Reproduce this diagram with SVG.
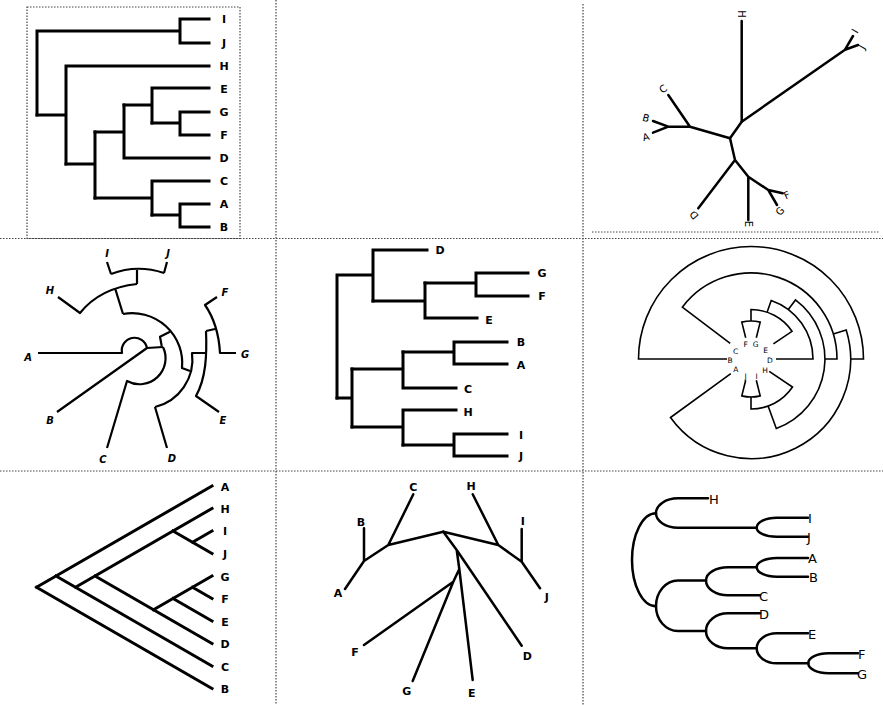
<svg xmlns="http://www.w3.org/2000/svg" width="883" height="705" viewBox="0 0 883 705">
<style>
.grid{fill:none;stroke:#444;stroke-width:1.2;stroke-dasharray:1.5 1.5}
.w3{fill:none;stroke:#000;stroke-width:3;stroke-linecap:square;stroke-linejoin:miter}
.w25{fill:none;stroke:#000;stroke-width:2.5;stroke-linecap:round;stroke-linejoin:round}
.w2{fill:none;stroke:#000;stroke-width:2.2;stroke-linecap:butt;stroke-linejoin:round}
.w15{fill:none;stroke:#000;stroke-width:1.6;stroke-linecap:butt;stroke-linejoin:miter}
.lb{font-family:"DejaVu Sans",sans-serif;font-weight:bold;font-size:11px;text-anchor:middle;dominant-baseline:central;fill:#000}
.li{font-family:"DejaVu Sans",sans-serif;font-weight:bold;font-style:italic;font-size:10px;text-anchor:middle;dominant-baseline:central;fill:#000}
.lt{font-family:"DejaVu Sans",sans-serif;font-size:10px;text-anchor:middle;dominant-baseline:central;fill:#000}
.lf{font-family:"DejaVu Sans",sans-serif;font-size:7.5px;text-anchor:middle;dominant-baseline:central;fill:#000}
.lr{font-family:"DejaVu Sans",sans-serif;font-size:13px;dominant-baseline:central;fill:#000}
</style>

<g id="grid">
<line class="grid" x1="276" y1="0" x2="276" y2="705"/>
<line class="grid" x1="583" y1="4" x2="583" y2="705"/>
<line class="grid" x1="0" y1="238.5" x2="883" y2="238.5"/>
<line class="grid" x1="0" y1="471" x2="883" y2="471"/>
<line class="grid" x1="592" y1="232" x2="880" y2="232"/>
<rect class="grid" x="27" y="7" width="213" height="231.5"/>
</g>

<!-- Panel 1: rectangular tree -->
<g id="p1-connectors">
<path class="w3" d="M37,31 V115 M37,31 H180 M180,19 V43 M180,19 H209 M180,43 H209"/>
<path class="w3" d="M37,115 H66 M66,66 V164 M66,66 H209"/>
<path class="w3" d="M66,164 H95 M95,132 V198"/>
<path class="w3" d="M95,132 H124 M124,105 V158 M124,158 H209"/>
<path class="w3" d="M124,105 H152 M152,88 V123 M152,88 H209"/>
<path class="w3" d="M152,123 H180 M180,112 V135 M180,112 H209 M180,135 H209"/>
<path class="w3" d="M95,198 H152 M152,181 V215 M152,181 H209"/>
<path class="w3" d="M152,215 H180 M180,204 V227 M180,204 H209 M180,227 H209"/>
</g>
<g id="p1-I"><text class="lb" x="224" y="19">I</text></g>
<g id="p1-J"><text class="lb" x="224" y="43">J</text></g>
<g id="p1-H"><text class="lb" x="224" y="66">H</text></g>
<g id="p1-E"><text class="lb" x="224" y="89">E</text></g>
<g id="p1-G"><text class="lb" x="224" y="112">G</text></g>
<g id="p1-F"><text class="lb" x="224" y="135">F</text></g>
<g id="p1-D"><text class="lb" x="224" y="158">D</text></g>
<g id="p1-C"><text class="lb" x="224" y="181">C</text></g>
<g id="p1-A"><text class="lb" x="224" y="204">A</text></g>
<g id="p1-B"><text class="lb" x="224" y="227">B</text></g>

<!-- Panel 3: unrooted tree -->
<g id="p3-connectors">
<path class="w25" d="M741.7,21 V121.7 M741.7,121.7 L845,49.7 M845,49.7 L853,36 M845,49.7 L858,45"/>
<path class="w25" d="M741.7,121.7 L730,138.3 L690,126.7 M690,126.7 L668.3,95 M690,126.7 L668.3,126.7 M668.3,126.7 L653,121 M668.3,126.7 L653,132.7"/>
<path class="w25" d="M730,138.3 L735,160 M735,160 L698.3,208.3 M735,160 L748.3,176.7 M748.3,176.7 V220 M748.3,176.7 L768.3,190 M768.3,190 L782.7,193.3 M768.3,190 L777,205"/>
</g>
<g id="p3-H"><text class="lt" x="741.7" y="14" transform="rotate(90 741.7 14)">H</text></g>
<g id="p3-I"><text class="lt" x="855" y="31" transform="rotate(-60 855 31)">I</text></g>
<g id="p3-J"><text class="lt" x="862" y="47" transform="rotate(-60 862 47)">J</text></g>
<g id="p3-C"><text class="lt" x="663" y="89" transform="rotate(-35 663 89)">C</text></g>
<g id="p3-B"><text class="lt" x="646" y="118" transform="rotate(15 646 118)">B</text></g>
<g id="p3-A"><text class="lt" x="646" y="137" transform="rotate(-15 646 137)">A</text></g>
<g id="p3-D"><text class="lt" x="694" y="215" transform="rotate(-130 694 215)">D</text></g>
<g id="p3-E"><text class="lt" x="748.3" y="224" transform="rotate(90 748.3 224)">E</text></g>
<g id="p3-F"><text class="lt" x="787" y="195" transform="rotate(-25 787 195)">F</text></g>
<g id="p3-G"><text class="lt" x="780" y="211" transform="rotate(-45 780 211)">G</text></g>

<!-- Panel 4: circular tree -->
<g id="p4-connectors">
<path class="w2" d="M107,262 L111,274 M111,274 Q137,264 164,273 M164,273 L167,262 M137,269 V284"/>
<path class="w2" d="M58,297 L80,313 Q100,288 137,284 M115,288 L123,314"/>
<path class="w2" d="M123,314 A50,50 0 0 1 182,368 L190,371"/>
<path class="w2" d="M38,353 H122 A12.5,12.5 0 0 1 147,348 L163,347 M57,412 L147,348"/>
<path class="w2" d="M163,347 A26,26 0 0 1 127,381 L107,448 M161.7,346 L160,336.7 L170,331.7"/>
<path class="w2" d="M155,407 L167,448 M155,407 A49,49 0 0 0 192,353 H206"/>
<path class="w2" d="M206,331 C207,355 206,378 196,396 L219,412 M206,331 L215,329"/>
<path class="w2" d="M217,297 L205,305 C214,318 219,335 220,353 H236"/>
</g>
<g id="p4-A"><text class="li" x="28" y="357">A</text></g>
<g id="p4-B"><text class="li" x="50" y="420">B</text></g>
<g id="p4-C"><text class="li" x="103" y="459">C</text></g>
<g id="p4-D"><text class="li" x="172" y="458">D</text></g>
<g id="p4-E"><text class="li" x="223" y="420">E</text></g>
<g id="p4-G"><text class="li" x="245" y="354">G</text></g>
<g id="p4-F"><text class="li" x="225" y="292">F</text></g>
<g id="p4-H"><text class="li" x="50" y="290">H</text></g>
<g id="p4-I"><text class="li" x="107" y="253">I</text></g>
<g id="p4-J"><text class="li" x="168" y="253">J</text></g>

<!-- Panel 5: rectangular tree -->
<g id="p5-connectors">
<path class="w3" d="M337,275 V398 M337,275 H373 M373,250 V301 M373,250 H427"/>
<path class="w3" d="M373,301 H425 M425,283 V318 M425,318 H477"/>
<path class="w3" d="M425,283 H476 M476,273 V296 M476,273 H528 M476,296 H528"/>
<path class="w3" d="M337,398 H352 M352,369 V427"/>
<path class="w3" d="M352,369 H403 M403,352 V388 M403,388 H456"/>
<path class="w3" d="M403,352 H454 M454,342 V364 M454,342 H507 M454,364 H507"/>
<path class="w3" d="M352,427 H403 M403,410 V445 M403,410 H456"/>
<path class="w3" d="M403,445 H454 M454,434 V456 M454,434 H507 M454,456 H507"/>
</g>
<g id="p5-D"><text class="lb" x="440" y="250">D</text></g>
<g id="p5-G"><text class="lb" x="542" y="273">G</text></g>
<g id="p5-F"><text class="lb" x="542" y="296">F</text></g>
<g id="p5-E"><text class="lb" x="489" y="320">E</text></g>
<g id="p5-B"><text class="lb" x="521" y="342">B</text></g>
<g id="p5-A"><text class="lb" x="521" y="365">A</text></g>
<g id="p5-C"><text class="lb" x="468" y="389">C</text></g>
<g id="p5-H"><text class="lb" x="468" y="412">H</text></g>
<g id="p5-I"><text class="lb" x="521" y="435">I</text></g>
<g id="p5-J"><text class="lb" x="521" y="456">J</text></g>

<!-- Panel 6: fan tree -->
<g id="p6-connectors">
<path class="w15" d="M727,359 H638.5 A112.5,112.5 0 0 1 863.5,359 H850.5"/>
<path class="w15" d="M730.8,373.7 L670.5,417.5 A99.5,99.5 0 0 0 846.2,329.9 L833.2,333.9"/>
<path class="w15" d="M730.2,343.4 L682.3,307.2 A86,86 0 0 1 837,359 H825"/>
<path class="w15" d="M788.3,309.5 L795.5,299.9 A74,74 0 0 1 776.3,428.5 L768.1,406"/>
<path class="w15" d="M767.1,312.2 L771.2,300.4 A62,62 0 0 1 813,359 H776"/>
<path class="w15" d="M751,321 V309.5 A49.5,49.5 0 0 1 792,331.3 L773.4,343.9"/>
<path class="w15" d="M745.7,337.7 L741.8,322.1 A38,38 0 0 1 760.2,322.1 L756.3,337.7"/>
<path class="w15" d="M751,397 V409 A50,50 0 0 0 792.5,387 L769.2,371.3"/>
<path class="w15" d="M745.7,380.3 L741.8,395.9 A38,38 0 0 0 760.2,395.9 L756.3,380.3"/>
</g>
<g id="p6-C"><text class="lf" x="735.7" y="351.5">C</text></g>
<g id="p6-F"><text class="lf" x="745.7" y="344">F</text></g>
<g id="p6-G"><text class="lf" x="755.7" y="344">G</text></g>
<g id="p6-E"><text class="lf" x="765.7" y="350">E</text></g>
<g id="p6-B"><text class="lf" x="730" y="360.5">B</text></g>
<g id="p6-D"><text class="lf" x="770" y="360.5">D</text></g>
<g id="p6-A"><text class="lf" x="735.7" y="369.3">A</text></g>
<g id="p6-J"><text class="lf" x="745.7" y="376.7">J</text></g>
<g id="p6-I"><text class="lf" x="756.7" y="376.7">I</text></g>
<g id="p6-H"><text class="lf" x="765" y="370.7">H</text></g>

<!-- Panel 7: slanted cladogram -->
<g id="p7-connectors">
<path class="w3" d="M36.5,587.25 L212,486 M36.5,587.25 L212,688.5"/>
<path class="w3" d="M56,576 L212,666 M75.5,587.25 L212,508.5 M95,576 L212,643.5"/>
<path class="w3" d="M173,531 L212,553.5 M192.5,542.25 L212,531"/>
<path class="w3" d="M153.5,609.75 L212,576 M173,598.5 L212,621 M192.5,587.25 L212,598.5"/>
</g>
<g id="p7-A"><text class="lb" x="225" y="487">A</text></g>
<g id="p7-H"><text class="lb" x="225" y="509">H</text></g>
<g id="p7-I"><text class="lb" x="225" y="531.5">I</text></g>
<g id="p7-J"><text class="lb" x="225" y="554">J</text></g>
<g id="p7-G"><text class="lb" x="225" y="577">G</text></g>
<g id="p7-F"><text class="lb" x="225" y="599.5">F</text></g>
<g id="p7-E"><text class="lb" x="225" y="622">E</text></g>
<g id="p7-D"><text class="lb" x="225" y="644.5">D</text></g>
<g id="p7-C"><text class="lb" x="225" y="667">C</text></g>
<g id="p7-B"><text class="lb" x="225" y="689.5">B</text></g>

<!-- Panel 8: unrooted tree 2 -->
<g id="p8-connectors">
<path class="w25" d="M443.3,531.7 L388.3,545 L413.3,494.3 M388.3,545 L364,561 V528.3 M364,561 L345,589"/>
<path class="w25" d="M443.3,531.7 L498.3,545 L472.7,494.3 M498.3,545 L521.7,561.7 V529 M521.7,561.7 L540,588.3"/>
<path class="w25" d="M443.3,531.7 L456.7,550 L521.7,645.7 M456.7,550 L459.3,569 L472.7,680 M459.3,569 L453.3,581.7 L364,645 M453.3,581.7 L412.7,681"/>
</g>
<g id="p8-C"><text class="lb" x="413.3" y="487">C</text></g>
<g id="p8-B"><text class="lb" x="361" y="522">B</text></g>
<g id="p8-A"><text class="lb" x="338" y="593">A</text></g>
<g id="p8-H"><text class="lb" x="471" y="486">H</text></g>
<g id="p8-I"><text class="lb" x="522.7" y="521">I</text></g>
<g id="p8-J"><text class="lb" x="546.7" y="597.7">J</text></g>
<g id="p8-D"><text class="lb" x="527.3" y="656.7">D</text></g>
<g id="p8-E"><text class="lb" x="471.7" y="693.3">E</text></g>
<g id="p8-F"><text class="lb" x="355" y="652.7">F</text></g>
<g id="p8-G"><text class="lb" x="406.7" y="691">G</text></g>

<!-- Panel 9: curved cladogram -->
<g id="p9-connectors">
<path class="w25" d="M632,560 A24,46.7 0 0 1 656,513.3 M632,560 A24,46.3 0 0 0 656,606.3"/>
<path class="w25" d="M656,513.3 A22,15 0 0 1 678,498.3 H708 M656,513.3 A22,14.4 0 0 0 678,527.7 H756.7"/>
<path class="w25" d="M756.7,527.7 A20,10 0 0 1 776.7,517.7 H808 M756.7,527.7 A20,9 0 0 0 776.7,536.7 H808"/>
<path class="w25" d="M656,606.3 A22,25.8 0 0 1 678,580.5 H706 M656,606.3 A22,24.7 0 0 0 678,631 H706"/>
<path class="w25" d="M706,580.5 A22,13.2 0 0 1 728,567.3 H756.7 M706,580.5 A22,14.8 0 0 0 728,595.3 H760"/>
<path class="w25" d="M756.7,567.3 A20,9.3 0 0 1 776.7,558 H808 M756.7,567.3 A20,9.4 0 0 0 776.7,576.7 H808"/>
<path class="w25" d="M706,631 A22,17.7 0 0 1 728,613.3 H760 M706,631 A22,17.3 0 0 0 728,648.3 H756.7"/>
<path class="w25" d="M756.7,648.3 A20,15 0 0 1 776.7,633.3 H808 M756.7,648.3 A20,15 0 0 0 776.7,663.3 H808.3"/>
<path class="w25" d="M808.3,663.3 A20,10 0 0 1 828.3,653.3 H858 M808.3,663.3 A20,10 0 0 0 828.3,673.3 H858"/>
</g>
<g id="p9-H"><text class="lr" x="709" y="499">H</text></g>
<g id="p9-I"><text class="lr" x="808" y="518">I</text></g>
<g id="p9-J"><text class="lr" x="807" y="537.5">J</text></g>
<g id="p9-A"><text class="lr" x="808" y="558.5">A</text></g>
<g id="p9-B"><text class="lr" x="809" y="577">B</text></g>
<g id="p9-C"><text class="lr" x="759" y="596">C</text></g>
<g id="p9-D"><text class="lr" x="759" y="614">D</text></g>
<g id="p9-E"><text class="lr" x="808" y="634">E</text></g>
<g id="p9-F"><text class="lr" x="858" y="654">F</text></g>
<g id="p9-G"><text class="lr" x="857" y="674">G</text></g>
</svg>
